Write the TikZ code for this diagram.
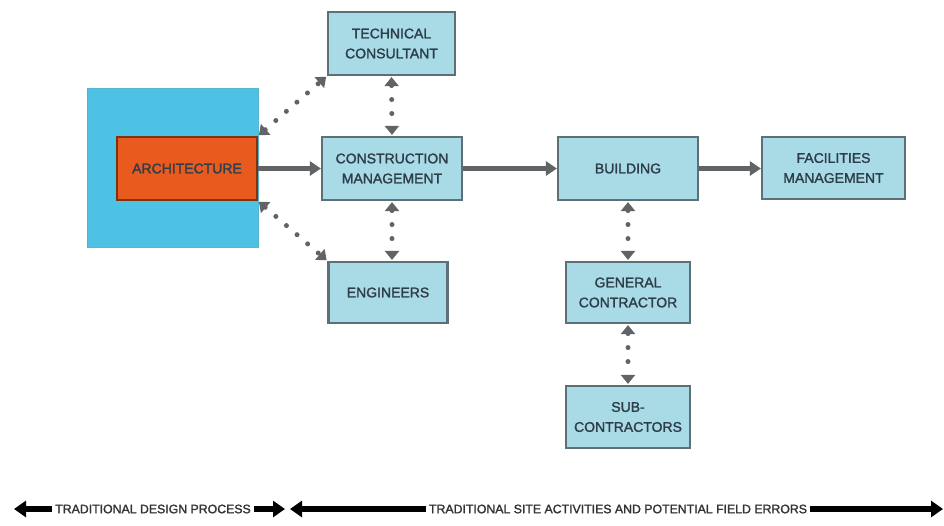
\documentclass[tikz,border=0pt]{standalone}
\usepackage{fontspec}
\setmainfont{Liberation Sans}[BoldFont=Liberation Sans, BoldFeatures={FakeBold=1.6}]
\usetikzlibrary{arrows.meta,calc}
\definecolor{boxfill}{HTML}{A9DBE7}
\definecolor{boxline}{HTML}{5E7077}
\definecolor{bgblue}{HTML}{4EC2E5}
\definecolor{archorange}{HTML}{E85A1E}
\definecolor{txt}{HTML}{2E3D4A}
\definecolor{conn}{HTML}{606466}
\tikzset{
  block/.style={draw=boxline, line width=2.2pt, fill=boxfill, text=txt,
    font=\fontsize{14}{20}\selectfont\bfseries, align=center, inner sep=0pt},
  flow/.style={draw=conn, line width=5pt, -{Triangle[length=11pt,width=14pt]}},
  link/.style={draw=conn, line width=5pt, dash pattern=on 0pt off 14pt, line cap=round,
    {Triangle[length=9pt,width=14pt]}-{Triangle[length=9pt,width=14pt]}, shorten <=1pt, shorten >=1pt},
  span/.style={draw=black, line width=5.5pt, {Triangle[length=12pt,width=16pt]}-{Triangle[length=12pt,width=16pt]}},
  spanlabel/.style={fill=white, inner xsep=3pt, inner ysep=1pt, text=black!80,
    font=\fontsize{12.3}{14}\selectfont\bfseries}
}
\begin{document}
\begin{tikzpicture}[x=1pt,y=-1pt]
\useasboundingbox (0,0) rectangle (944,525);
\fill[white] (0,0) rectangle (944,525);
% background area
\node[draw=bgblue!80!gray, line width=1pt, fill=bgblue, minimum width=171pt, minimum height=159pt, inner sep=0pt] (bg) at (172.5,167.5) {};
\node[block, fill=archorange, draw=archorange!55!black, minimum width=140pt, minimum height=63pt] (arch) at (187,168.5) {ARCHITECTURE};
\node[block, minimum width=127pt, minimum height=63pt] (tc) at (391.5,43.5) {TECHNICAL\\CONSULTANT};
\node[block, minimum width=140pt, minimum height=63pt] (cm) at (392,168.5) {CONSTRUCTION\\MANAGEMENT};
\node[block, minimum width=119pt, minimum height=61pt] (eng) at (388,292.5) {ENGINEERS};
\node[block, minimum width=140pt, minimum height=63pt] (bld) at (628,168.5) {BUILDING};
\node[block, minimum width=143pt, minimum height=62pt] (fm) at (833.5,168) {FACILITIES\\MANAGEMENT};
\node[block, minimum width=124pt, minimum height=61pt] (gc) at (628,292.5) {GENERAL\\CONTRACTOR};
\node[block, minimum width=124pt, minimum height=62pt] (sub) at (628,417) {SUB-\\CONTRACTORS};
% main flow
\draw[flow] (arch.east) -- (cm.west);
\draw[flow] (cm.east) -- (bld.west);
\draw[flow] (bld.east) -- (bld.east -| fm.west);
% dotted links
\draw[link] (tc.south) -- (cm.north);
\draw[link] (cm.south) -- (cm.south |- eng.north);
\draw[link] (bld.south) -- (gc.north);
\draw[link] (gc.south) -- (sub.north);
\draw[link] (arch.north east) -- (tc.south west);
\draw[link] (arch.south east) -- (eng.north west);
% bottom spans
\coordinate (a1) at (14,509);
\coordinate (a2) at (285,509);
\coordinate (b1) at (290,509);
\coordinate (b2) at (943,509);
\draw[span] (a1) -- (a2);
\draw[span] (b1) -- (b2);
\node[spanlabel] (la) at (153,509) {TRADITIONAL DESIGN PROCESS};
\node[spanlabel] (lb) at (618,509) {TRADITIONAL SITE ACTIVITIES AND POTENTIAL FIELD ERRORS};
\end{tikzpicture}
\end{document}
